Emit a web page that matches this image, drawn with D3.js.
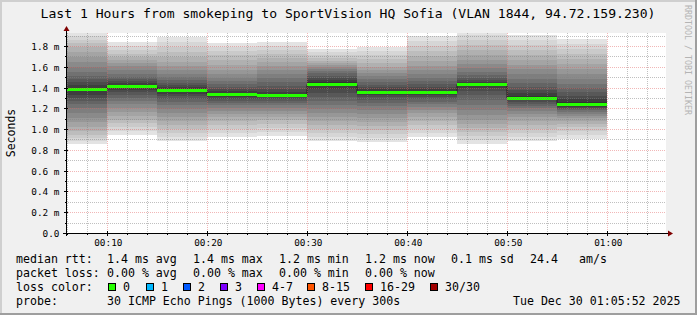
<!DOCTYPE html>
<html><head><meta charset="utf-8">
<script src="https://cdn.jsdelivr.net/npm/d3@7"></script>
<style>
html,body{margin:0;padding:0;background:#f0f0f0;}
svg{display:block;}
text{font-family:"DejaVu Sans Mono",monospace;fill:#000;}
</style>
</head><body>
<svg id="c" width="697" height="315"></svg>
<script>
// ---------------- data ----------------
const blockEnds = ["00:10","00:15","00:20","00:25","00:30","00:35","00:40","00:45","00:50","00:55","01:00"];
const pings1  = [0.857,0.885,0.914,0.943,0.982,1.020,1.068,1.107,1.155,1.203,1.242,1.270,1.299,1.328,1.362,1.396,1.424,1.453,1.482,1.511,1.550,1.598,1.646,1.694,1.742,1.790,1.829,1.858,1.896,1.940];
const pings2  = [0.943,0.982,1.020,1.059,1.088,1.126,1.165,1.203,1.242,1.270,1.299,1.328,1.357,1.376,1.405,1.424,1.444,1.463,1.482,1.501,1.530,1.569,1.607,1.636,1.665,1.694,1.723,1.761,1.800,1.838];
const pings3  = [0.885,0.924,0.962,1.001,1.039,1.078,1.116,1.155,1.193,1.232,1.261,1.290,1.319,1.338,1.367,1.386,1.405,1.424,1.444,1.473,1.501,1.530,1.569,1.607,1.646,1.694,1.742,1.790,1.838,1.886];
const pings4  = [0.924,0.962,1.001,1.039,1.078,1.116,1.145,1.174,1.203,1.232,1.251,1.270,1.290,1.309,1.328,1.348,1.367,1.386,1.405,1.434,1.463,1.492,1.530,1.569,1.617,1.665,1.713,1.752,1.790,1.829];
const pings5  = [0.934,0.972,1.011,1.049,1.088,1.116,1.145,1.174,1.203,1.232,1.251,1.270,1.290,1.309,1.319,1.338,1.357,1.386,1.415,1.453,1.492,1.530,1.569,1.607,1.646,1.684,1.723,1.761,1.800,1.838];
const pings6  = [0.885,0.924,0.962,1.001,1.039,1.078,1.116,1.155,1.193,1.232,1.270,1.309,1.348,1.386,1.424,1.453,1.473,1.492,1.511,1.540,1.559,1.578,1.598,1.617,1.636,1.655,1.684,1.713,1.742,1.771];
const pings7  = [0.876,0.914,0.953,0.991,1.030,1.068,1.107,1.145,1.184,1.222,1.251,1.280,1.309,1.328,1.348,1.367,1.386,1.405,1.424,1.453,1.482,1.511,1.540,1.569,1.598,1.636,1.675,1.713,1.752,1.790];
const pings8  = [0.924,0.962,1.001,1.039,1.078,1.116,1.155,1.184,1.213,1.242,1.261,1.290,1.309,1.328,1.348,1.367,1.386,1.405,1.434,1.463,1.492,1.530,1.569,1.607,1.655,1.704,1.752,1.800,1.848,1.896];
const pings9  = [0.857,0.895,0.934,0.972,1.011,1.049,1.088,1.136,1.184,1.232,1.280,1.328,1.367,1.396,1.415,1.444,1.453,1.473,1.492,1.521,1.550,1.588,1.627,1.665,1.713,1.761,1.809,1.858,1.906,1.954];
const pings10 = [0.885,0.924,0.962,1.001,1.039,1.078,1.116,1.145,1.174,1.203,1.222,1.242,1.261,1.280,1.290,1.319,1.348,1.376,1.405,1.444,1.482,1.530,1.578,1.617,1.665,1.713,1.761,1.809,1.858,1.906];
const pings11 = [0.905,0.943,0.982,1.020,1.049,1.078,1.107,1.126,1.145,1.165,1.184,1.193,1.203,1.213,1.232,1.261,1.290,1.319,1.357,1.396,1.434,1.482,1.530,1.578,1.627,1.675,1.723,1.771,1.819,1.867];
const medians = [1.383,1.418,1.376,1.338,1.328,1.437,1.354,1.357,1.431,1.300,1.245];

const yTickValues = [0,0.2,0.4,0.6,0.8,1.0,1.2,1.4,1.6,1.8];
const yTickLabels = ["0.0","0.2 m","0.4 m","0.6 m","0.8 m","1.0 m","1.2 m","1.4 m","1.6 m","1.8 m"];
const timeStart = "2025-12-30 00:05:52";
const timeEnd   = "2025-12-30 01:05:52";

const lossLabels = ["0","1","2","3","4-7","8-15","16-29","30/30"];
const lossColors = ["#26ff00","#00b8ff","#0059ff","#7e00ff","#ff00ff","#ff5500","#ff0000","#a10000"];

const titleText = "Last 1 Hours from smokeping to SportVision HQ Sofia (VLAN 1844, 94.72.159.230)";
const legendRows = [
  [["median rtt:",16],["1.4 ms avg",107],["1.4 ms max",193],["1.2 ms min",279],["1.2 ms now",365],["0.1 ms sd",451],["24.4",530],["am/s",579]],
  [["packet loss:",16],["0.00 % avg",107],["0.00 % max",193],["0.00 % min",279],["0.00 % now",365]],
  [["loss color:",16]],
  [["probe:",16],["30 ICMP Echo Pings (1000 Bytes) every 300s",107]]
];
const lossLegendX = [108,146,183,220,257,307,365,430];
const dateText = "Tue Dec 30 01:05:52 2025";

// ---------------- drawing ----------------
const allPings = [pings1,pings2,pings3,pings4,pings5,pings6,pings7,pings8,pings9,pings10,pings11];
const W = 697, H = 315;
const X0 = 66, X1 = 666, Y0 = 233, Y1 = 33;
const parse = d3.timeParse("%Y-%m-%d %H:%M:%S");
const parseHM = s => parse("2025-12-30 " + s + ":00");
const tStart = parse(timeStart), tEnd = parse(timeEnd);

const x = d3.scaleTime().domain([tStart, tEnd]).range([X0, X1]);
const y = d3.scaleLinear().domain([0, 200/103.9]).range([Y0, Y1]);

const svg = d3.select("#c");

svg.append("rect").attr("width",W).attr("height",H).attr("fill","#f0f0f0");
svg.append("rect").attr("x",X0).attr("y",Y1).attr("width",X1-X0).attr("height",Y0-Y1).attr("fill","#ffffff");
svg.append("path").attr("d",`M0,${H} V0 H${W}`).attr("stroke","#cfcfcf").attr("stroke-width",4).attr("fill","none");
svg.append("path").attr("d",`M0,${H} H${W} V0`).attr("stroke","#9e9e9e").attr("stroke-width",4).attr("fill","none");

svg.append("clipPath").attr("id","plotclip").append("rect")
  .attr("x",X0).attr("y",Y1).attr("width",X1-X0).attr("height",Y0-Y1);
const plot = svg.append("g").attr("clip-path","url(#plotclip)");

// smoke (smokeping style bands)
const half = 15;
const shade = i => { const c = Math.floor(190/half*(half-i))+50; return d3.rgb(c,c,c).formatHex(); };
blockEnds.forEach((e,bi) => {
  const tE = parseHM(e);
  const tS = d3.timeMinute.offset(tE,-5);
  const p = allPings[bi];
  const xa = Math.round(x(tS)), xb = Math.round(x(tE));
  for (let i=1;i<=half;i++){
    const lo = p[i-1], hi = p[30-i];
    const ya = Math.round(y(hi)), yb = Math.round(y(lo));
    plot.append("rect").attr("x",xa).attr("width",xb-xa)
      .attr("y",ya).attr("height",Math.max(0,yb-ya))
      .attr("fill",shade(i)).attr("shape-rendering","crispEdges");
  }
});

// grid
const grid = svg.append("g");
const minorCol = "rgba(130,130,130,0.5)", majorCol = "rgba(225,95,95,0.45)";
const minorT = d3.timeMinute.every(2).range(tStart, tEnd);
minorT.forEach(t => {
  if (t.getMinutes()%10===0) return;
  const xx = Math.round(x(t))+0.5;
  grid.append("line").attr("x1",xx).attr("x2",xx).attr("y1",Y1).attr("y2",Y0)
    .attr("stroke",minorCol).attr("stroke-dasharray","1,1");
});
for (let k=1;k<=19;k+=2){
  const yy = Math.round(y(k/10))+0.5;
  grid.append("line").attr("x1",X0).attr("x2",X1).attr("y1",yy).attr("y2",yy)
    .attr("stroke",minorCol).attr("stroke-dasharray","1,1");
}
const majorT = d3.timeMinute.every(10).range(tStart, tEnd);
majorT.forEach(t => {
  const xx = Math.round(x(t))+0.5;
  grid.append("line").attr("x1",xx).attr("x2",xx).attr("y1",Y1).attr("y2",Y0)
    .attr("stroke",majorCol).attr("stroke-dasharray","1,1");
});
yTickValues.forEach(v => {
  if (v===0) return;
  const yy = Math.round(y(v))+0.5;
  grid.append("line").attr("x1",X0).attr("x2",X1).attr("y1",yy).attr("y2",yy)
    .attr("stroke",majorCol).attr("stroke-dasharray","1,1");
});

// median line
const stepData = [];
blockEnds.forEach((e,bi) => {
  const tE = parseHM(e), tS = d3.timeMinute.offset(tE,-5);
  stepData.push({t:tS,v:medians[bi]});
  stepData.push({t:tE,v:medians[bi]});
});
const lineGen = d3.line().x(d=>Math.round(x(d.t))).y(d=>Math.round(y(d.v))+0.5);
plot.append("path").datum(stepData).attr("d",lineGen).attr("fill","none").attr("stroke","#202020").attr("stroke-width",1);
blockEnds.forEach((e,bi) => {
  const tE = parseHM(e), tS = d3.timeMinute.offset(tE,-5);
  const yy = Math.round(y(medians[bi]));
  plot.append("line").attr("x1",Math.round(x(tS))).attr("x2",Math.round(x(tE)))
    .attr("y1",yy+0.5).attr("y2",yy+0.5).attr("stroke",lossColors[0]).attr("stroke-width",3);
});

// axes
const ax = svg.append("g");
ax.append("line").attr("x1",X0-3).attr("x2",X1+3).attr("y1",Y0+0.5).attr("y2",Y0+0.5).attr("stroke","#000");
ax.append("line").attr("x1",X0+0.5).attr("x2",X0+0.5).attr("y1",Y0+3).attr("y2",Y1-2).attr("stroke","#000");
ax.append("path").attr("d",`M${X1+2},${Y0-2.5} L${X1+7},${Y0+0.5} L${X1+2},${Y0+3.5} Z`).attr("fill","#7f0000");
ax.append("path").attr("d",`M${X0-2.5},${Y1-2} L${X0+0.5},${Y1-7} L${X0+3.5},${Y1-2} Z`).attr("fill","#7f0000");
minorT.forEach(t => { const xx=Math.round(x(t))+0.5;
  ax.append("line").attr("x1",xx).attr("x2",xx).attr("y1",Y0).attr("y2",Y0+2).attr("stroke","#000"); });
majorT.forEach(t => { const xx=Math.round(x(t))+0.5;
  ax.append("line").attr("x1",xx).attr("x2",xx).attr("y1",Y0-2).attr("y2",Y0+3).attr("stroke","#000"); });
for (let k=1;k<=19;k++){ const yy=Math.round(y(k/10))+0.5;
  ax.append("line").attr("x1",X0-(k%2?1:2)).attr("x2",X0+(k%2?1:2)).attr("y1",yy).attr("y2",yy).attr("stroke","#000"); }

const fmt = d3.timeFormat("%H:%M");
majorT.forEach(t => {
  svg.append("text").attr("x",x(t)+1).attr("y",245.7).attr("text-anchor","middle")
    .attr("font-size","9.4px").text(fmt(t));
});
yTickValues.forEach((v,i) => {
  svg.append("text").attr("x",59.5).attr("y",Math.round(y(v))+3.6).attr("text-anchor","end")
    .attr("font-size","9.4px").text(yTickLabels[i]);
});

svg.append("text").attr("x",348).attr("y",18.3).attr("text-anchor","middle").attr("font-size","13.1px").text(titleText);
svg.append("text").attr("transform","translate(15,133) rotate(-90)").attr("text-anchor","middle")
  .attr("font-size","11.5px").text("Seconds");
svg.append("text").attr("transform","translate(684.5,5) rotate(90)").attr("text-anchor","start")
  .attr("font-size","8.3px").style("fill","#b4b4b4").text("RRDTOOL / TOBI OETIKER");

const legBase = [262.5, 276.7, 290.8, 305];
legendRows.forEach((row,ri) => {
  row.forEach(([s,xx]) => {
    svg.append("text").attr("x",xx).attr("y",legBase[ri]).attr("font-size","11.6px")
      .attr("xml:space","preserve").text(s);
  });
});
lossLabels.forEach((l,i) => {
  const bx = lossLegendX[i];
  svg.append("rect").attr("x",bx+0.5).attr("y",283.5).attr("width",7).attr("height",7)
    .attr("fill",lossColors[i]).attr("stroke","#000").attr("stroke-width",1);
  svg.append("text").attr("x",bx+15).attr("y",legBase[2]).attr("font-size","11.6px").text(l);
});
svg.append("text").attr("x",680.5).attr("y",legBase[3]).attr("text-anchor","end").attr("font-size","11.6px").text(dateText);
</script>
</body></html>
